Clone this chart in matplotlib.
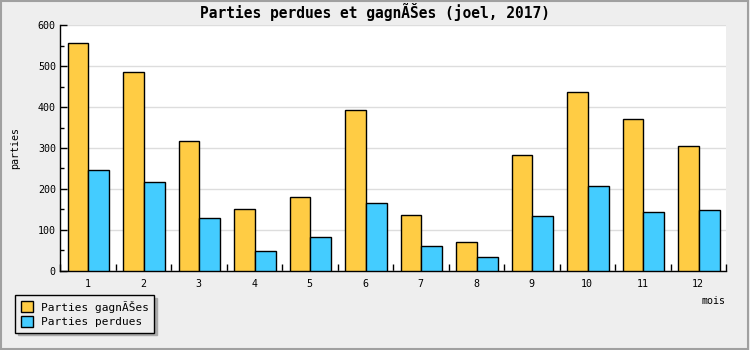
import matplotlib.pyplot as plt
import numpy as np
from matplotlib.patches import Rectangle
from matplotlib.ticker import MultipleLocator

mois = [1, 2, 3, 4, 5, 6, 7, 8, 9, 10, 11, 12]
gagnees = [557, 486, 316, 152, 179, 394, 137, 69, 282, 438, 371, 304]
perdues = [247, 216, 130, 47, 83, 165, 61, 34, 133, 206, 143, 148]

titre = "Parties perdues et gagnÃŠes (joel, 2017)"
label_gagnees = "Parties gagnÃŠes"
label_perdues = "Parties perdues"

mono = "DejaVu Sans Mono"
plt.rcParams['font.family'] = mono

fig = plt.figure(figsize=(7.5, 3.5), dpi=100)
fig.patch.set_facecolor('#eeeeee')
# cadre gris autour de l'image
fig.patches.append(Rectangle((0.001, 0.002), 0.996, 0.995, transform=fig.transFigure,
                             fill=False, edgecolor='#a0a0a0', linewidth=1.5))

ax = fig.add_axes([60/750, 1-270.7/350, 666/750, 245.4/350])
ax.set_facecolor('white')

x = np.arange(len(mois))
w = 0.375
ax.bar(x - w/2 + 0.012, gagnees, w, color='#ffcc44', edgecolor='black', linewidth=1,
       label=label_gagnees, zorder=3)
ax.bar(x + w/2 + 0.012, perdues, w, color='#44ccff', edgecolor='black', linewidth=1,
       label=label_perdues, zorder=3)

ax.set_xlim(-0.5, len(mois) - 0.5)
ax.set_ylim(0, 600)

ax.yaxis.set_major_locator(MultipleLocator(100))
ax.yaxis.set_minor_locator(MultipleLocator(50))
ax.grid(axis='y', color='#dddddd', linewidth=1, zorder=0)

ax.set_xticks(np.arange(len(mois) + 1) - 0.5)
ax.set_xticklabels([])
ax.set_xticks(x, minor=True)
ax.set_xticklabels([str(m) for m in mois], minor=True)
ax.tick_params(axis='x', which='major', direction='in', length=5, width=1)
ax.tick_params(axis='x', which='minor', length=0, pad=6, labelsize=7.2)
ax.tick_params(axis='y', which='major', direction='in', length=5, width=1, pad=3, labelsize=7.2)
ax.tick_params(axis='y', which='minor', direction='in', length=3, width=1)

for s in ['top', 'right']:
    ax.spines[s].set_visible(False)
for s in ['left', 'bottom']:
    ax.spines[s].set_linewidth(1)

fig.text(375/750, 1-12/350, titre, ha='center', va='center', fontsize=10.5,
         fontweight='bold')
fig.text(15/750, 1-148/350, "parties", rotation=90, ha='center', va='center', fontsize=7.2)
fig.text(726/750, 1-301/350, "mois", ha='right', va='center', fontsize=7.2)

leg = fig.legend(loc='upper left', bbox_to_anchor=(15/750, 1-295/350),
                 fontsize=8, frameon=True, fancybox=False, shadow={'color': '#aaaaaa', 'alpha': 1},
                 edgecolor='black', facecolor='#eeeeee', framealpha=1,
                 handlelength=1.1, handleheight=1.1, handletextpad=0.7,
                 borderpad=0.5, labelspacing=0.3, borderaxespad=0)
leg.get_frame().set_linewidth(1)

fig.savefig("out.png", dpi=100, facecolor=fig.get_facecolor())
